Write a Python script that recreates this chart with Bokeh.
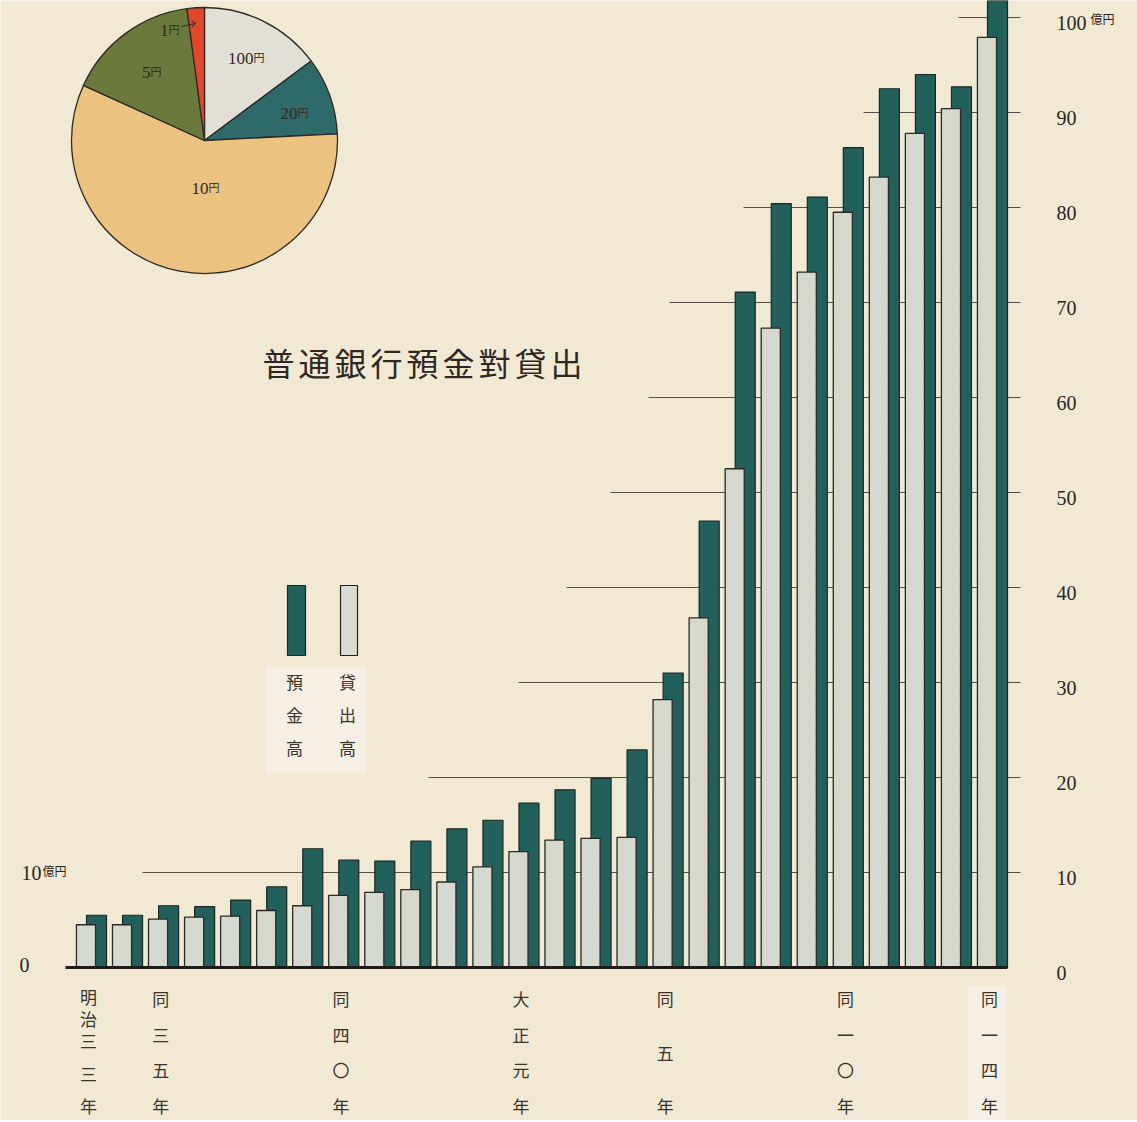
from bokeh.plotting import figure
from bokeh.models import Range1d, ColumnDataSource
from bokeh.core.properties import value
from bokeh.embed import file_html
from bokeh.resources import INLINE
import math

# ---------------- data ----------------
years = list(range(1900, 1926))  # 明治33年 .. 大正14年
deposits = [5.5, 5.5, 6.5, 6.4, 7.1, 8.5, 12.5, 11.3, 11.2, 13.3, 14.6, 15.5, 17.3,
            18.7, 19.9, 22.9, 31.0, 47.0, 71.1, 80.4, 81.1, 86.3, 92.5, 94.0, 92.7, 103.0]
loans = [4.5, 4.5, 5.1, 5.3, 5.4, 6.0, 6.5, 7.6, 7.9, 8.2, 9.0, 10.6, 12.2,
         13.4, 13.6, 13.7, 28.2, 36.8, 52.5, 67.3, 73.2, 79.5, 83.2, 87.8, 90.4, 97.9]
year_label_idx = [0, 2, 7, 12, 16, 21, 25]
year_labels = ["明治三三年", "同三五年", "同四〇年", "大正元年", "同五年", "同一〇年", "同一四年"]
right_ticks = [0, 10, 20, 30, 40, 50, 60, 70, 80, 90, 100]
pie_labels = ["100", "20", "10", "5", "1"]
pie_shares = [14.8, 9.4, 57.6, 16.1, 2.1]
title_text = "普通銀行預金對貸出"
legend_names = ["預金高", "貸出高"]

# ---------------- styles / layout ----------------
PAPER = "#f2e9d5"
DARK = "#22605c"
LIGHT = "#dadcd2"
INK = "#2a2520"
pie_colors = ["#e2e0d6", "#2f6a6b", "#ebc27f", "#6b7a3c", "#e2472b"]

W, H = 1137, 1120
PITCH = 36.04          # px per year
X0 = 91                # page px of first year centre
BASE = 967             # page px of zero line
UNIT = 9.5             # px per 1億円


def dx(px):
    return (px - X0) / PITCH


def dy(py):
    return (BASE - py) / UNIT


p = figure(width=W, height=H, output_backend="svg", toolbar_location=None,
           x_range=Range1d(dx(0), dx(W)), y_range=Range1d(dy(H), dy(0)),
           x_axis_location=None, y_axis_location=None, min_border=0,
           background_fill_color=PAPER, border_fill_color=PAPER,
           outline_line_color=None, tools="")
p.grid.visible = False

cjk = value("Noto Sans CJK JP")
serif = value("Liberation Serif")

# paler pasted slips
p.quad(left=[dx(265), dx(967)], right=[dx(366), dx(1006)],
       bottom=[dy(772), dy(1125)], top=[dy(667), dy(985)],
       fill_color="#f6f0e4", line_color=None)

# guide lines
guide_levels = [10, 20, 30, 40, 50, 60, 70, 80, 90, 100]
guide_start_px = [142, 428, 518, 566, 610, 648, 669, 743, 863, 958]
p.segment(x0=[dx(v) for v in guide_start_px], x1=[dx(1020)] * len(guide_levels),
          y0=guide_levels, y1=guide_levels, line_color="#3b342d", line_width=1.1,
          line_alpha=0.85)

# bars
idx = list(range(len(years)))
src = ColumnDataSource(dict(
    xd=[i + 0.139 for i in idx], xl=[i - 0.153 for i in idx],
    dep=deposits, loan=loans))
p.vbar(x="xd", width=0.555, top="dep", bottom=0, source=src,
       fill_color=DARK, line_color="#1a2624", line_width=1.2)
p.vbar(x="xl", width=0.53, top="loan", bottom=0, source=src,
       fill_color=LIGHT, line_color="#2a2826", line_width=1.3,
       hatch_pattern="/", hatch_color="#9fb0ab", hatch_alpha=0.35,
       hatch_scale=5, hatch_weight=0.6)

# zero line
p.segment(x0=[dx(65)], x1=[dx(1007)], y0=[0], y1=[0], line_color="#1c1b1a", line_width=3.2)

# right tick labels
lab = [str(t) for t in right_ticks]
p.text(x=[dx(1056)] * len(lab), y=right_ticks, text=lab, text_font=serif,
       text_font_size="20px", text_color=INK, text_align="left",
       text_baseline="middle", y_offset=5)
p.text(x=[dx(1090)], y=[100], text=["億円"], text_font=cjk, text_font_size="12px",
       text_color=INK, text_align="left", text_baseline="middle", y_offset=1)
# left labels
p.text(x=[dx(41), dx(29)], y=[10, 0], text=["10", "0"], text_font=serif,
       text_font_size="20px", text_color=INK, text_align="right",
       text_baseline="middle", y_offset=[0, -3])
p.text(x=[dx(42)], y=[10], text=["億円"], text_font=cjk, text_font_size="12px",
       text_color=INK, text_align="left", text_baseline="middle", y_offset=-2)

# year labels (vertical)
cx, cy, ct = [], [], []
for k, lbl in enumerate(year_labels):
    xi = year_label_idx[k] - 0.08
    chars = list(lbl)
    if lbl.startswith("明治"):
        ys = [996, 1018] + [1040 + j * (1105 - 1040) / (len(chars) - 3) for j in range(len(chars) - 2)]
    else:
        ys = [998 + j * (1105 - 998) / (len(chars) - 1) for j in range(len(chars))]
    for c, yy in zip(chars, ys):
        cx.append(xi)
        cy.append(dy(yy))
        ct.append(c)
p.text(x=cx, y=cy, text=ct, text_font=cjk, text_font_size="17px", text_color="#3a322b",
       text_align="center", text_baseline="middle")

# title
tchars = list(title_text)
p.text(x=[dx(278 + 36 * j) for j in range(len(tchars))], y=[dy(361)] * len(tchars),
       text=tchars, text_font=cjk, text_font_size="32px", text_color="#2e2822",
       text_align="center", text_baseline="middle")

# legend
p.quad(left=[dx(287), dx(340)], right=[dx(305), dx(357)], bottom=[dy(655)] * 2,
       top=[dy(585)] * 2, fill_color=[DARK, LIGHT], line_color="#222", line_width=1.2)
lx, ly, lt = [], [], []
for xpx, name in zip([294, 347], legend_names):
    for j, c in enumerate(name):
        lx.append(dx(xpx))
        ly.append(dy(681 + 33 * j))
        lt.append(c)
p.text(x=lx, y=ly, text=lt, text_font=cjk, text_font_size="17px", text_color="#3a322b",
       text_align="center", text_baseline="middle")

# pie
tot = sum(pie_shares)
cum = 0
starts, ends = [], []
for s in pie_shares:
    a0 = cum / tot * 360
    cum += s
    a1 = cum / tot * 360
    starts.append(math.radians(90 - a1))
    ends.append(math.radians(90 - a0))
pcx, pcy = dx(204), dy(140)
p.wedge(x=[pcx] * len(pie_shares), y=[pcy] * len(pie_shares), radius=133,
        radius_units="screen", start_angle=starts, end_angle=ends,
        fill_color=pie_colors, line_color="#2d2a26", line_width=1.3)

pl_pos = [(253, 58), (297, 113), (208, 188), (150, 72), (168, 30)]
num_x = [dx(px) for px, _ in pl_pos]
num_y = [dy(py) for _, py in pl_pos]
p.text(x=num_x, y=num_y, text=pie_labels, text_font=serif, text_font_size="17px",
       text_color="#2e2a24", text_align="right", text_baseline="middle")
p.text(x=num_x, y=num_y, text=["円"] * len(pie_labels), text_font=cjk,
       text_font_size="11px", text_color="#2e2a24", text_align="left",
       text_baseline="middle", y_offset=-2)
# arrow for 1円
p.segment(x0=[dx(181)], y0=[dy(26)], x1=[dx(195)], y1=[dy(23)], line_color="#2e2a24", line_width=1)
p.segment(x0=[dx(191), dx(191)], y0=[dy(20), dy(27)], x1=[dx(195)] * 2, y1=[dy(23)] * 2,
          line_color="#2e2a24", line_width=1)

html = file_html(p, INLINE)
html = html.replace("<body>", '<body style="background-color:#f2e9d5;">', 1)
open("out.html", "w").write(html)
